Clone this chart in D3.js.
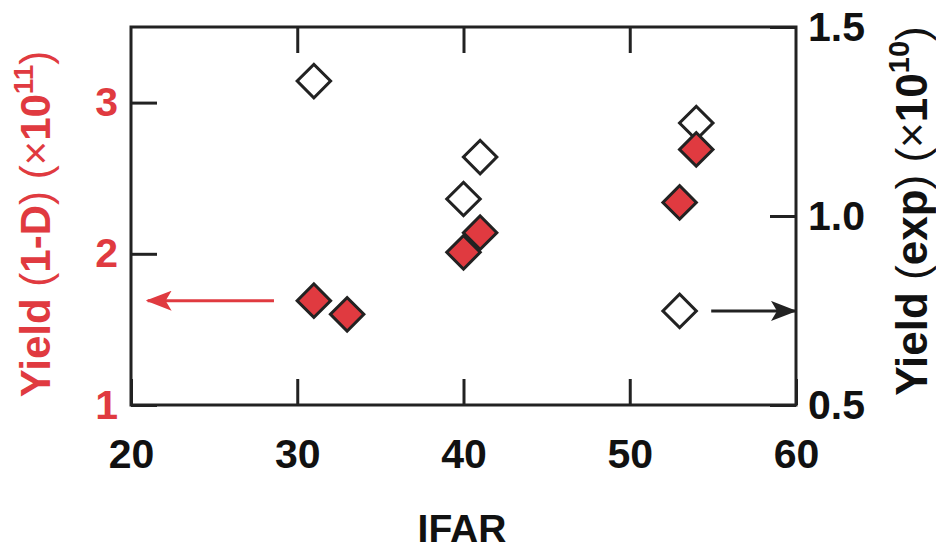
<!DOCTYPE html>
<html>
<head>
<meta charset="utf-8">
<script src="https://cdn.jsdelivr.net/npm/d3@7"></script>
<style>
  body { margin: 0; background: #fff; }
  svg text { font-family: "Liberation Sans", Arial, Helvetica, sans-serif; font-weight: bold; }
</style>
</head>
<body>
<svg width="936" height="550"></svg>
<script>
// Data
const ifar1D = [31, 33, 40, 41, 53, 54];
const yield1D = [1.69, 1.60, 2.01, 2.14, 2.34, 2.69];   // left axis, x1e11
const ifarExp = [31, 40, 41, 53, 54];
const yieldExp = [1.357, 1.045, 1.156, 0.749, 1.246];   // right axis, x1e10
const xTicks = [20, 30, 40, 50, 60];
const yLeftTicks = [1, 2, 3];
const yRightTicks = [0.5, 1.0, 1.5];

const red = "#e03a40", ink = "#222", txt = "#111";
const svg = d3.select("svg");
const pL = 131, pR = 796, pT = 27, pB = 405;

const x = d3.scaleLinear().domain([20, 60]).range([pL, pR]);
const yL = d3.scaleLinear().domain([1, 3.5]).range([pB, pT]);
const yR = d3.scaleLinear().domain([0.5, 1.5]).range([pB, pT]);

const fs = 41, tick = 26;

// axes (ticks point inward)
const gB = svg.append("g").attr("transform", `translate(0,${pB})`)
  .call(d3.axisBottom(x).tickValues(xTicks).tickSize(-tick).tickPadding(63));
const gT = svg.append("g").attr("transform", `translate(0,${pT})`)
  .call(d3.axisTop(x).tickValues([30, 40, 50]).tickSize(-tick).tickFormat(""));
const gL = svg.append("g").attr("transform", `translate(${pL},0)`)
  .call(d3.axisLeft(yL).tickValues(yLeftTicks).tickFormat(d3.format("d")).tickSize(-tick).tickPadding(13));
const gR = svg.append("g").attr("transform", `translate(${pR},0)`)
  .call(d3.axisRight(yR).tickValues(yRightTicks).tickFormat(d3.format(".1f")).tickSize(-tick).tickPadding(12));

[gB, gT, gL, gR].forEach(g => {
  g.select(".domain").remove();
  g.selectAll("line").attr("stroke", ink).attr("stroke-width", 3);
  g.selectAll("text").attr("font-size", fs).attr("font-family", null).attr("fill", txt);
});
gB.selectAll("text").attr("dy", 0);
gL.selectAll("text").attr("fill", red);

// frame
svg.append("rect")
  .attr("x", pL).attr("y", pT)
  .attr("width", pR - pL).attr("height", pB - pT)
  .attr("fill", "none").attr("stroke", ink).attr("stroke-width", 3);

// arrows
const defs = svg.append("defs");
[["ah-red", red], ["ah-ink", ink]].forEach(([id, c]) => {
  defs.append("marker").attr("id", id)
    .attr("viewBox", "0 0 26 20").attr("refX", 24).attr("refY", 10)
    .attr("markerWidth", 26).attr("markerHeight", 20)
    .attr("markerUnits", "userSpaceOnUse").attr("orient", "auto")
    .append("path").attr("d", "M0,0 L26,10 L0,20 L6,10 Z").attr("fill", c);
});
svg.append("line")
  .attr("x1", x(28.6)).attr("x2", x(21)).attr("y1", yL(1.69)).attr("y2", yL(1.69))
  .attr("stroke", red).attr("stroke-width", 3).attr("marker-end", "url(#ah-red)");
svg.append("line")
  .attr("x1", x(54.9)).attr("x2", pR - 1).attr("y1", yR(0.749)).attr("y2", yR(0.749))
  .attr("stroke", ink).attr("stroke-width", 3).attr("marker-end", "url(#ah-ink)");

// diamonds
const diamond = d3.symbol().type(d3.symbolSquare).size(560);
svg.append("g").selectAll("path")
  .data(ifarExp.map((v, i) => [v, yieldExp[i]]))
  .join("path")
  .attr("d", diamond)
  .attr("transform", d => `translate(${x(d[0])},${yR(d[1])}) rotate(45)`)
  .attr("fill", "#fff").attr("stroke", ink).attr("stroke-width", 3);
svg.append("g").selectAll("path")
  .data(ifar1D.map((v, i) => [v, yield1D[i]]))
  .join("path")
  .attr("d", diamond)
  .attr("transform", d => `translate(${x(d[0])},${yL(d[1])}) rotate(45)`)
  .attr("fill", red).attr("stroke", ink).attr("stroke-width", 3);

// axis titles
svg.append("text").attr("x", 462).attr("y", 542)
  .attr("text-anchor", "middle").attr("font-size", 39).attr("fill", txt).text("IFAR");

function yTitle(xPos, yPos, size, parts, color) {
  const t = svg.append("text")
    .attr("transform", `translate(${xPos},${yPos}) rotate(-90)`)
    .attr("text-anchor", "middle").attr("font-size", size).attr("fill", color);
  parts.forEach(p => {
    const s = t.append("tspan").text(p.t);
    if (p.light) s.attr("font-weight", "normal");
    if (p.sup) s.attr("font-size", size * 0.66).attr("dy", -size * 0.4);
    if (p.down) s.attr("dy", size * 0.4);
  });
}
yTitle(50, 224, 42, [
  { t: "Yield " }, { t: "(", light: true }, { t: "1-D" }, { t: ")", light: true },
  { t: " (×", light: true }, { t: "10" }, { t: "11", sup: true }, { t: ")", light: true, down: true }
], red);
yTitle(927, 211, 44, [
  { t: "Yield " }, { t: "(", light: true }, { t: "exp" }, { t: ")", light: true },
  { t: " (×", light: true }, { t: "10" }, { t: "10", sup: true }, { t: ")", light: true, down: true }
], txt);
</script>
</body>
</html>
